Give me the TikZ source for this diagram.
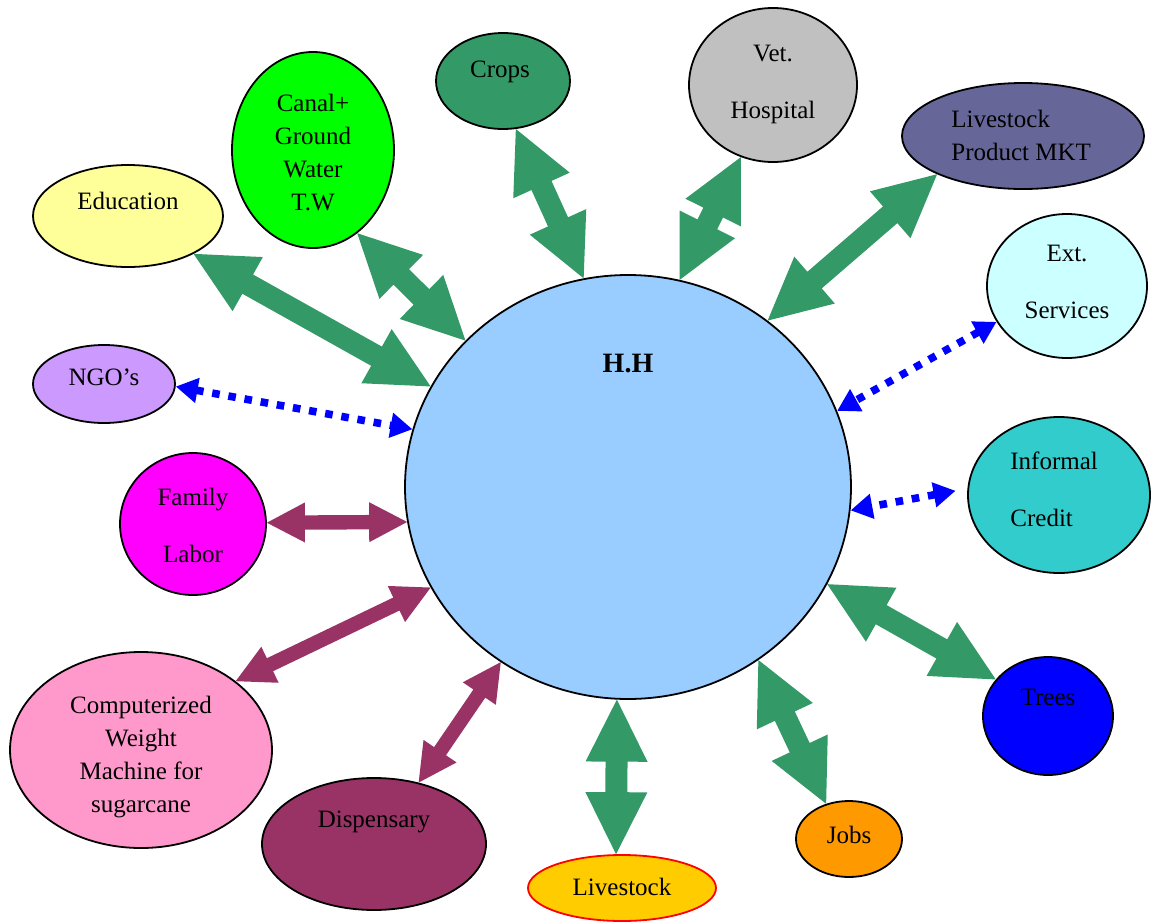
\documentclass[tikz,border=0pt]{standalone}
\usepackage{fontspec}
\setmainfont{Liberation Serif}
\usetikzlibrary{calc,shapes.geometric,arrows.meta}
\definecolor{grn}{HTML}{339966}
\definecolor{mar}{HTML}{993366}
\definecolor{hhblue}{HTML}{99CCFF}
\definecolor{eduyel}{HTML}{FFFF99}
\definecolor{canalgrn}{HTML}{00FF00}
\definecolor{vetgray}{HTML}{C0C0C0}
\definecolor{mktblue}{HTML}{666699}
\definecolor{extcyan}{HTML}{CCFFFF}
\definecolor{credteal}{HTML}{33CCCC}
\definecolor{treeblue}{HTML}{0000FF}
\definecolor{jobsor}{HTML}{FF9900}
\definecolor{lsyel}{HTML}{FFCC00}
\definecolor{comppink}{HTML}{FF99CC}
\definecolor{fammag}{HTML}{FF00FF}
\definecolor{ngolil}{HTML}{CC99FF}
% block double arrow: #1 tip A, #2 tip B, #3 shaft half width, #4 head half width, #5 head length, #6 style
\newcommand\blockarrow[6]{%
  \fill[#6] (#1)
    -- ($(#1)!#5!(#2)!#4!90:(#2)$) -- ($(#1)!#5!(#2)!#3!90:(#2)$)
    -- ($(#2)!#5!(#1)!#3!-90:(#1)$) -- ($(#2)!#5!(#1)!#4!-90:(#1)$)
    -- (#2)
    -- ($(#2)!#5!(#1)!#4!90:(#1)$) -- ($(#2)!#5!(#1)!#3!90:(#1)$)
    -- ($(#1)!#5!(#2)!#3!-90:(#2)$) -- ($(#1)!#5!(#2)!#4!-90:(#2)$)
    -- cycle;}
\newcommand\greenarrow[2]{\blockarrow{#1}{#2}{5.5pt}{15.5pt}{31pt}{greenblock}}
\newcommand\maroonarrow[2]{\blockarrow{#1}{#2}{3.6pt}{10pt}{19pt}{maroonblock}}
\begin{document}
\begin{tikzpicture}[x=0.5pt,y=-0.5pt,
  blob/.style={ellipse,draw=black,line width=0.9pt,inner sep=0pt},
  lbl/.style={font=\fontsize{12.5}{16.5}\selectfont,align=center,inner sep=0pt},
  lblwide/.style={font=\fontsize{12.5}{28.5}\selectfont,align=center,inner sep=0pt},
  greenblock/.style={fill=grn},
  maroonblock/.style={fill=mar},
  dotarrow/.style={draw=blue,line width=3.8pt,dash pattern=on 3.8pt off 4.4pt,
    {Triangle[length=11pt,width=12pt]}-{Triangle[length=11pt,width=12pt]}}
]
\useasboundingbox (0,0) rectangle (1153,922);
% nodes
\node[blob,fill=hhblue,minimum width=223pt,minimum height=212pt] (hh) at (628,487) {};
\node[blob,fill=eduyel,minimum width=95pt,minimum height=51pt] (edu) at (128,216) {};
\node[blob,fill=canalgrn,minimum width=81pt,minimum height=98pt] (canal) at (313,150) {};
\node[blob,fill=grn,minimum width=67pt,minimum height=48pt] (crops) at (503,81) {};
\node[blob,fill=vetgray,minimum width=84pt,minimum height=77pt] (vet) at (773,85) {};
\node[blob,fill=mktblue,minimum width=121pt,minimum height=53pt] (lmkt) at (1023,136) {};
\node[blob,fill=extcyan,minimum width=80pt,minimum height=72pt] (ext) at (1067,286) {};
\node[blob,fill=credteal,minimum width=91pt,minimum height=78pt] (credit) at (1059,495) {};
\node[blob,fill=treeblue,minimum width=65pt,minimum height=59pt] (trees) at (1048,716) {};
\node[blob,fill=jobsor,minimum width=53pt,minimum height=38pt] (jobs) at (849,839) {};
\node[blob,draw=red,fill=lsyel,minimum width=94pt,minimum height=33pt] (lstock) at (622,888) {};
\node[blob,fill=mar,minimum width=112pt,minimum height=66pt] (disp) at (374,844) {};
\node[blob,fill=comppink,minimum width=131pt,minimum height=98pt] (comp) at (141,750) {};
\node[blob,fill=fammag,minimum width=73pt,minimum height=71pt] (family) at (193,524) {};
\node[blob,fill=ngolil,minimum width=71pt,minimum height=39pt] (ngo) at (104,384) {};
% labels
\node[lbl,font=\fontsize{14}{16}\selectfont\bfseries] (hhl) at (628,364) {H.H};
\node[lbl] (edul) at (128,201) {Education};
\node[lbl] (canall) at (313,153) {Canal+\\Ground\\Water\\T.W};
\node[lbl] (cropsl) at (500,72) {Crops};
\node[lblwide] (vetl) at (773,84) {Vet.\\Hospital};
\node[lbl,align=left,anchor=west] (lmktl) at (951,135) {Livestock\\Product MKT};
\node[lblwide] (extl) at (1067,282) {Ext.\\Services};
\node[lblwide,align=left,anchor=west] (creditl) at (1010,489) {Informal\\Credit};
\node[lbl] (treesl) at (1048,697) {Trees};
\node[lbl] (jobsl) at (849,835) {Jobs};
\node[lbl] (lstockl) at (622,887) {Livestock};
\node[lbl] (displ) at (374,822) {Dispensary};
\node[lbl] (compl) at (141,757) {Computerized\\Weight\\Machine for\\sugarcane};
\node[lblwide] (familyl) at (193,525) {Family\\Labor};
\node[lbl] (ngol) at (104,377) {NGO’s};
% green block arrows
\greenarrow{edu.-30.2}{hh.153.2}
\greenarrow{canal.-62.1}{hh.138}
\greenarrow{crops.-75.7}{hh.102.8}
\greenarrow{vet.-114.5}{hh.76.5}
\greenarrow{lmkt.-156.4}{hh.50.6}
\greenarrow{trees.145.1}{hh.-26.9}
\greenarrow{jobs.123}{hh.-53.6}
\greenarrow{lstock.100.3}{hh.-93.2}
% maroon block arrows
\maroonarrow{family.1.5}{hh.-171.1}
\maroonarrow{comp.36.5}{hh.-153.1}
\maroonarrow{disp.54.2}{hh.-126.3}
% blue dotted arrows
\draw[dotarrow] (ngo.-2.5) -- (hh.165.4);
\draw[dotarrow] (ext.-153.1) -- (hh.20.4);
\draw[dotarrow,shorten <=6pt] (credit.176.1) -- (hh.-6.7);
\end{tikzpicture}
\end{document}
